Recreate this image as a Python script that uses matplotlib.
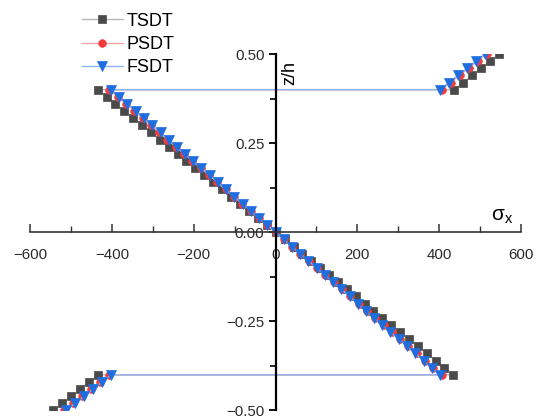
import matplotlib

matplotlib.use("Agg")
import matplotlib.pyplot as plt
from matplotlib.ticker import MultipleLocator

plt.rcParams["font.family"] = ["Liberation Sans", "DejaVu Sans"]
plt.rcParams["mathtext.fontset"] = "custom"
plt.rcParams["mathtext.rm"] = "Liberation Sans"

# through-thickness positions (z/h)
z_bottom = [-0.50, -0.48, -0.46, -0.44, -0.42, -0.40]
z_core = [-0.40, -0.38, -0.36, -0.34, -0.32, -0.30, -0.28, -0.26, -0.24, -0.22,
          -0.20, -0.18, -0.16, -0.14, -0.12, -0.10, -0.08, -0.06, -0.04, -0.02,
          0.00, 0.02, 0.04, 0.06, 0.08, 0.10, 0.12, 0.14, 0.16, 0.18,
          0.20, 0.22, 0.24, 0.26, 0.28, 0.30, 0.32, 0.34, 0.36, 0.38, 0.40]
z_top = [0.40, 0.42, 0.44, 0.46, 0.48, 0.50]

# sigma_x values
tsdt_bottom = [-543, -521, -499, -477, -455, -433]
tsdt_core = [435, 413, 392, 370, 348, 326, 305, 283, 261, 239,
             218, 196, 174, 152, 131, 109, 87, 65, 44, 22,
             0, -22, -44, -65, -87, -109, -131, -152, -174, -196,
             -218, -239, -261, -283, -305, -326, -348, -370, -392, -413, -435]
tsdt_top = [437, 459, 481, 503, 525, 547]

psdt_bottom = [-516, -494, -472, -450, -428, -406]
psdt_core = [406, 386, 365, 345, 325, 305, 284, 264, 244, 223,
             203, 183, 162, 142, 122, 102, 81, 61, 41, 20,
             0, -20, -41, -61, -81, -102, -122, -142, -162, -183,
             -203, -223, -244, -264, -284, -305, -325, -345, -365, -386, -406]
psdt_top = [406, 428, 450, 472, 494, 516]

fsdt_bottom = [-512, -490, -468, -446, -424, -402]
fsdt_core = [402, 382, 362, 342, 322, 302, 281, 261, 241, 221,
             201, 181, 161, 141, 121, 101, 80, 60, 40, 20,
             0, -20, -40, -60, -80, -101, -121, -141, -161, -181,
             -201, -221, -241, -261, -281, -302, -322, -342, -362, -382, -402]
fsdt_top = [402, 424, 446, 468, 490, 512]

series = [
    ("TSDT", tsdt_bottom + tsdt_core + tsdt_top, "s", "#4a4a4a", "#b8b8b8", 6),
    ("PSDT", psdt_bottom + psdt_core + psdt_top, "o", "#f23c3c", "#f7a8a8", 5.5),
    ("FSDT", fsdt_bottom + fsdt_core + fsdt_top, "v", "#1f6ee0", "#8ab5f2", 7),
]
z_all = z_bottom + z_core + z_top

fig = plt.figure(figsize=(5.38, 4.19), dpi=100)
ax = fig.add_axes([0.0558, 0.0203, 0.9126, 0.8508])

lines = []
for name, sig, mk, mcolor, lcolor, ms in series:
    (ln,) = ax.plot(sig, z_all, color=lcolor, linewidth=1.0, marker=mk,
                    markersize=ms, markerfacecolor=mcolor, markeredgecolor=mcolor,
                    markeredgewidth=0.5, label=name)
    lines.append(ln)

ax.set_xlim(-600, 600)
ax.set_ylim(-0.5, 0.5)

ax.spines["left"].set_position(("data", 0))
ax.spines["bottom"].set_position(("data", 0))
ax.spines["top"].set_visible(False)
ax.spines["right"].set_visible(False)
ax.spines["left"].set_linewidth(1.6)
ax.spines["bottom"].set_linewidth(1.2)
ax.spines["bottom"].set_color("#333333")

ax.xaxis.set_major_locator(MultipleLocator(200))
ax.xaxis.set_minor_locator(MultipleLocator(100))
ax.yaxis.set_major_locator(MultipleLocator(0.25))
ax.yaxis.set_minor_locator(MultipleLocator(0.125))
ax.yaxis.set_major_formatter(lambda v, p: f"{v:.2f}".replace("-", "\u2212"))

ax.tick_params(axis="x", which="major", direction="in", length=6, width=1.1,
               labelsize=10.8, pad=11, colors="#333333", labelcolor="#2a2a2a")
ax.tick_params(axis="x", which="minor", direction="in", length=4, width=1.0,
               colors="#333333")
ax.tick_params(axis="y", which="major", direction="out", length=5, width=1.3,
               labelsize=10.8, pad=3, labelcolor="#2a2a2a")
ax.tick_params(axis="y", which="minor", direction="out", length=4, width=1.2)

ax.text(14, 0.447, "z/h", rotation=90, fontsize=13, ha="left", va="center")
ax.text(527, 0.045, "σ$_\\mathrm{x}$", fontsize=15, ha="left", va="center")

fig.legend(handles=lines, loc="upper left", bbox_to_anchor=(0.128, 1.0),
           frameon=False, fontsize=13, handlelength=2.3, handletextpad=0.2,
           labelspacing=0.35, borderpad=0.2)

fig.savefig("out.png", dpi=100)
plt.close(fig)
